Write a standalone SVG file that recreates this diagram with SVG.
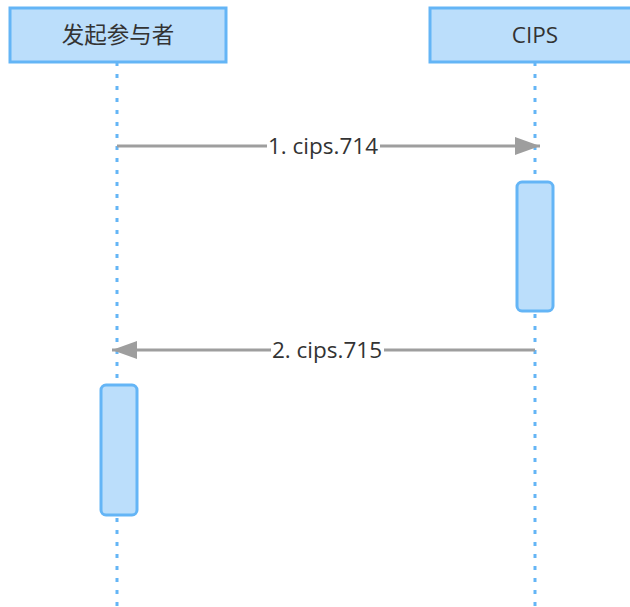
<svg xmlns="http://www.w3.org/2000/svg" width="630" height="607" viewBox="0 0 630 607">
<style>
.actor{fill:#bbdefb;stroke:#64b5f6;stroke-width:3}
.life{stroke:#64b5f6;stroke-width:3;stroke-dasharray:4 8;fill:none}
.act{fill:#bbdefb;stroke:#64b5f6;stroke-width:3}
.msg{stroke:#9e9e9e;stroke-width:3;fill:none}
.lbl{font-family:"Open Sans","Noto Sans","Noto Sans CJK SC",sans-serif;font-size:22.5px;fill:#333333;text-anchor:middle}
.lblbg{fill:#ffffff}
</style>
<defs>
<marker id="ah" markerWidth="25" markerHeight="18" refX="25" refY="9" orient="auto" markerUnits="userSpaceOnUse">
<path d="M0,0 L25,9 L0,18 Z" fill="#9e9e9e"/>
</marker>
</defs>
<g id="lifelines">
<line class="life" x1="117" y1="62" x2="117" y2="607"/>
<line class="life" x1="535" y1="62" x2="535" y2="607"/>
</g>
<g id="actor-initiator">
<rect class="actor" x="10" y="8" width="216" height="54"/>
<text class="lbl" x="118" y="43">发起参与者</text>
</g>
<g id="actor-cips">
<rect class="actor" x="430" y="8" width="210" height="54"/>
<text class="lbl" x="535" y="43">CIPS</text>
</g>
<g id="activation-cips">
<rect class="act" x="517" y="182" width="36" height="129" rx="5"/>
</g>
<g id="activation-initiator">
<rect class="act" x="101" y="385" width="36" height="130" rx="5"/>
</g>
<g id="connectors">
<line class="msg" x1="117" y1="146" x2="540" y2="146" marker-end="url(#ah)"/>
<rect class="lblbg" x="267" y="133" width="113" height="27"/>
<text class="lbl" x="323" y="154">1. cips.714</text>
<line class="msg" x1="535" y1="350" x2="112" y2="350" marker-end="url(#ah)"/>
<rect class="lblbg" x="271" y="337" width="113" height="27"/>
<text class="lbl" x="327" y="358">2. cips.715</text>
</g>
</svg>
